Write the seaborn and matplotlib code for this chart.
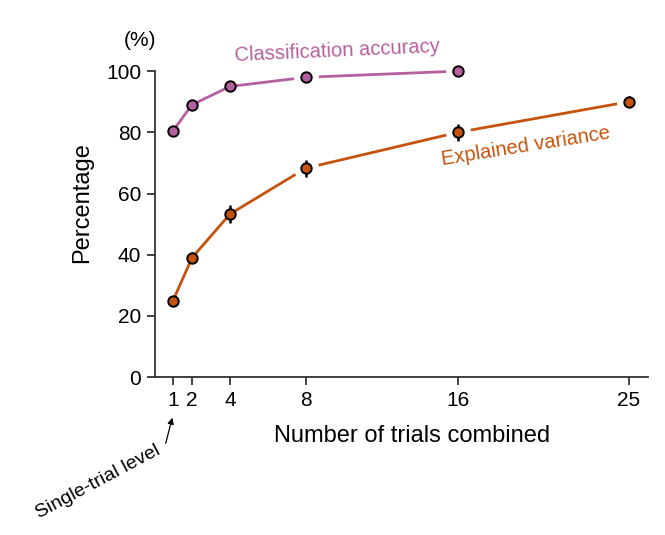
import pandas as pd
import seaborn as sns
import matplotlib.pyplot as plt

# ----------------------------
# DATA
# ----------------------------
trials = [1, 2, 4, 8, 16, 25]
accuracy = [80.5, 89.0, 95.0, 98.0, 100.0]
variance = [25.0, 39.0, 53.3, 68.3, 80.0, 90.0]
variance_err = [0.8, 1.8, 2.8, 2.8, 2.8, 1.8]
xticks = [1, 2, 4, 8, 16, 25]
yticks = [0, 20, 40, 60, 80, 100]

acc_df = pd.DataFrame({"trials": trials[:len(accuracy)], "value": accuracy})
var_df = pd.DataFrame({"trials": trials, "value": variance, "err": variance_err})

PINK = "#b5609f"
ORANGE = "#c6530d"
SPINE = "#333333"

# ----------------------------
# STYLE
# ----------------------------
sns.set_theme(style="ticks")
plt.rcParams["font.family"] = ["Liberation Sans", "DejaVu Sans"]
plt.rcParams["text.color"] = "black"
plt.rcParams["axes.labelcolor"] = "black"

fig = plt.figure(figsize=(6.65, 5.35), dpi=100)
ax = fig.add_axes([0.233, 0.295, 0.741, 0.572])

# ----------------------------
# LINES + MARKERS
# ----------------------------
for df, col in [(acc_df, PINK), (var_df, ORANGE)]:
    sns.lineplot(data=df, x="trials", y="value", color=col, lw=2.0, ax=ax,
                 clip_on=False, zorder=2)
    far = df[df["trials"] >= 8]
    ax.plot(far["trials"], far["value"], "o", ms=18, color="white",
            mec="none", clip_on=False, zorder=3)

ax.errorbar(var_df["trials"], var_df["value"], yerr=var_df["err"], fmt="none",
            ecolor="black", elinewidth=1.8, capsize=0, zorder=4, clip_on=False)

for df, col in [(acc_df, PINK), (var_df, ORANGE)]:
    ax.plot(df["trials"], df["value"], "o", ms=7.5, mfc=col, mec="black",
            mew=1.4, clip_on=False, zorder=5)

# ----------------------------
# AXES
# ----------------------------
ax.set_xlim(0.05, 26)
ax.set_ylim(0, 100)
ax.set_xticks(xticks)
ax.set_yticks(yticks)
ax.tick_params(axis="both", direction="out", length=6, width=1.3,
               color=SPINE, labelsize=15, labelcolor="black", pad=4)
sns.despine(ax=ax)
for s in ["left", "bottom"]:
    ax.spines[s].set_color(SPINE)
    ax.spines[s].set_linewidth(1.3)

ax.set_xlabel("Number of trials combined", fontsize=17)
ax.set_ylabel("Percentage", fontsize=17)
ax.xaxis.set_label_coords(0.521, -0.155)
ax.yaxis.set_label_coords(-0.126, 0.569)

# ----------------------------
# ANNOTATIONS
# ----------------------------
fig.text(140 / 665, 1 - 40 / 535, "(%)", fontsize=15, ha="center", va="center")
fig.text(337 / 665, 1 - 51 / 535, "Classification accuracy", fontsize=14.5,
         color=PINK, ha="center", va="center", rotation=2.5)
fig.text(526 / 665, 1 - 146 / 535, "Explained variance", fontsize=14.5,
         color=ORANGE, ha="center", va="center", rotation=9)
fig.text(98 / 665, 1 - 482 / 535, "Single-trial level", fontsize=14,
         ha="center", va="center", rotation=28)
ax.annotate("", xy=(173 / 665, 1 - 415 / 535), xycoords="figure fraction",
            xytext=(165 / 665, 1 - 446 / 535), textcoords="figure fraction",
            arrowprops=dict(arrowstyle="-|>", color="black", lw=0.9,
                            mutation_scale=9))

fig.savefig("out.png", dpi=100)
